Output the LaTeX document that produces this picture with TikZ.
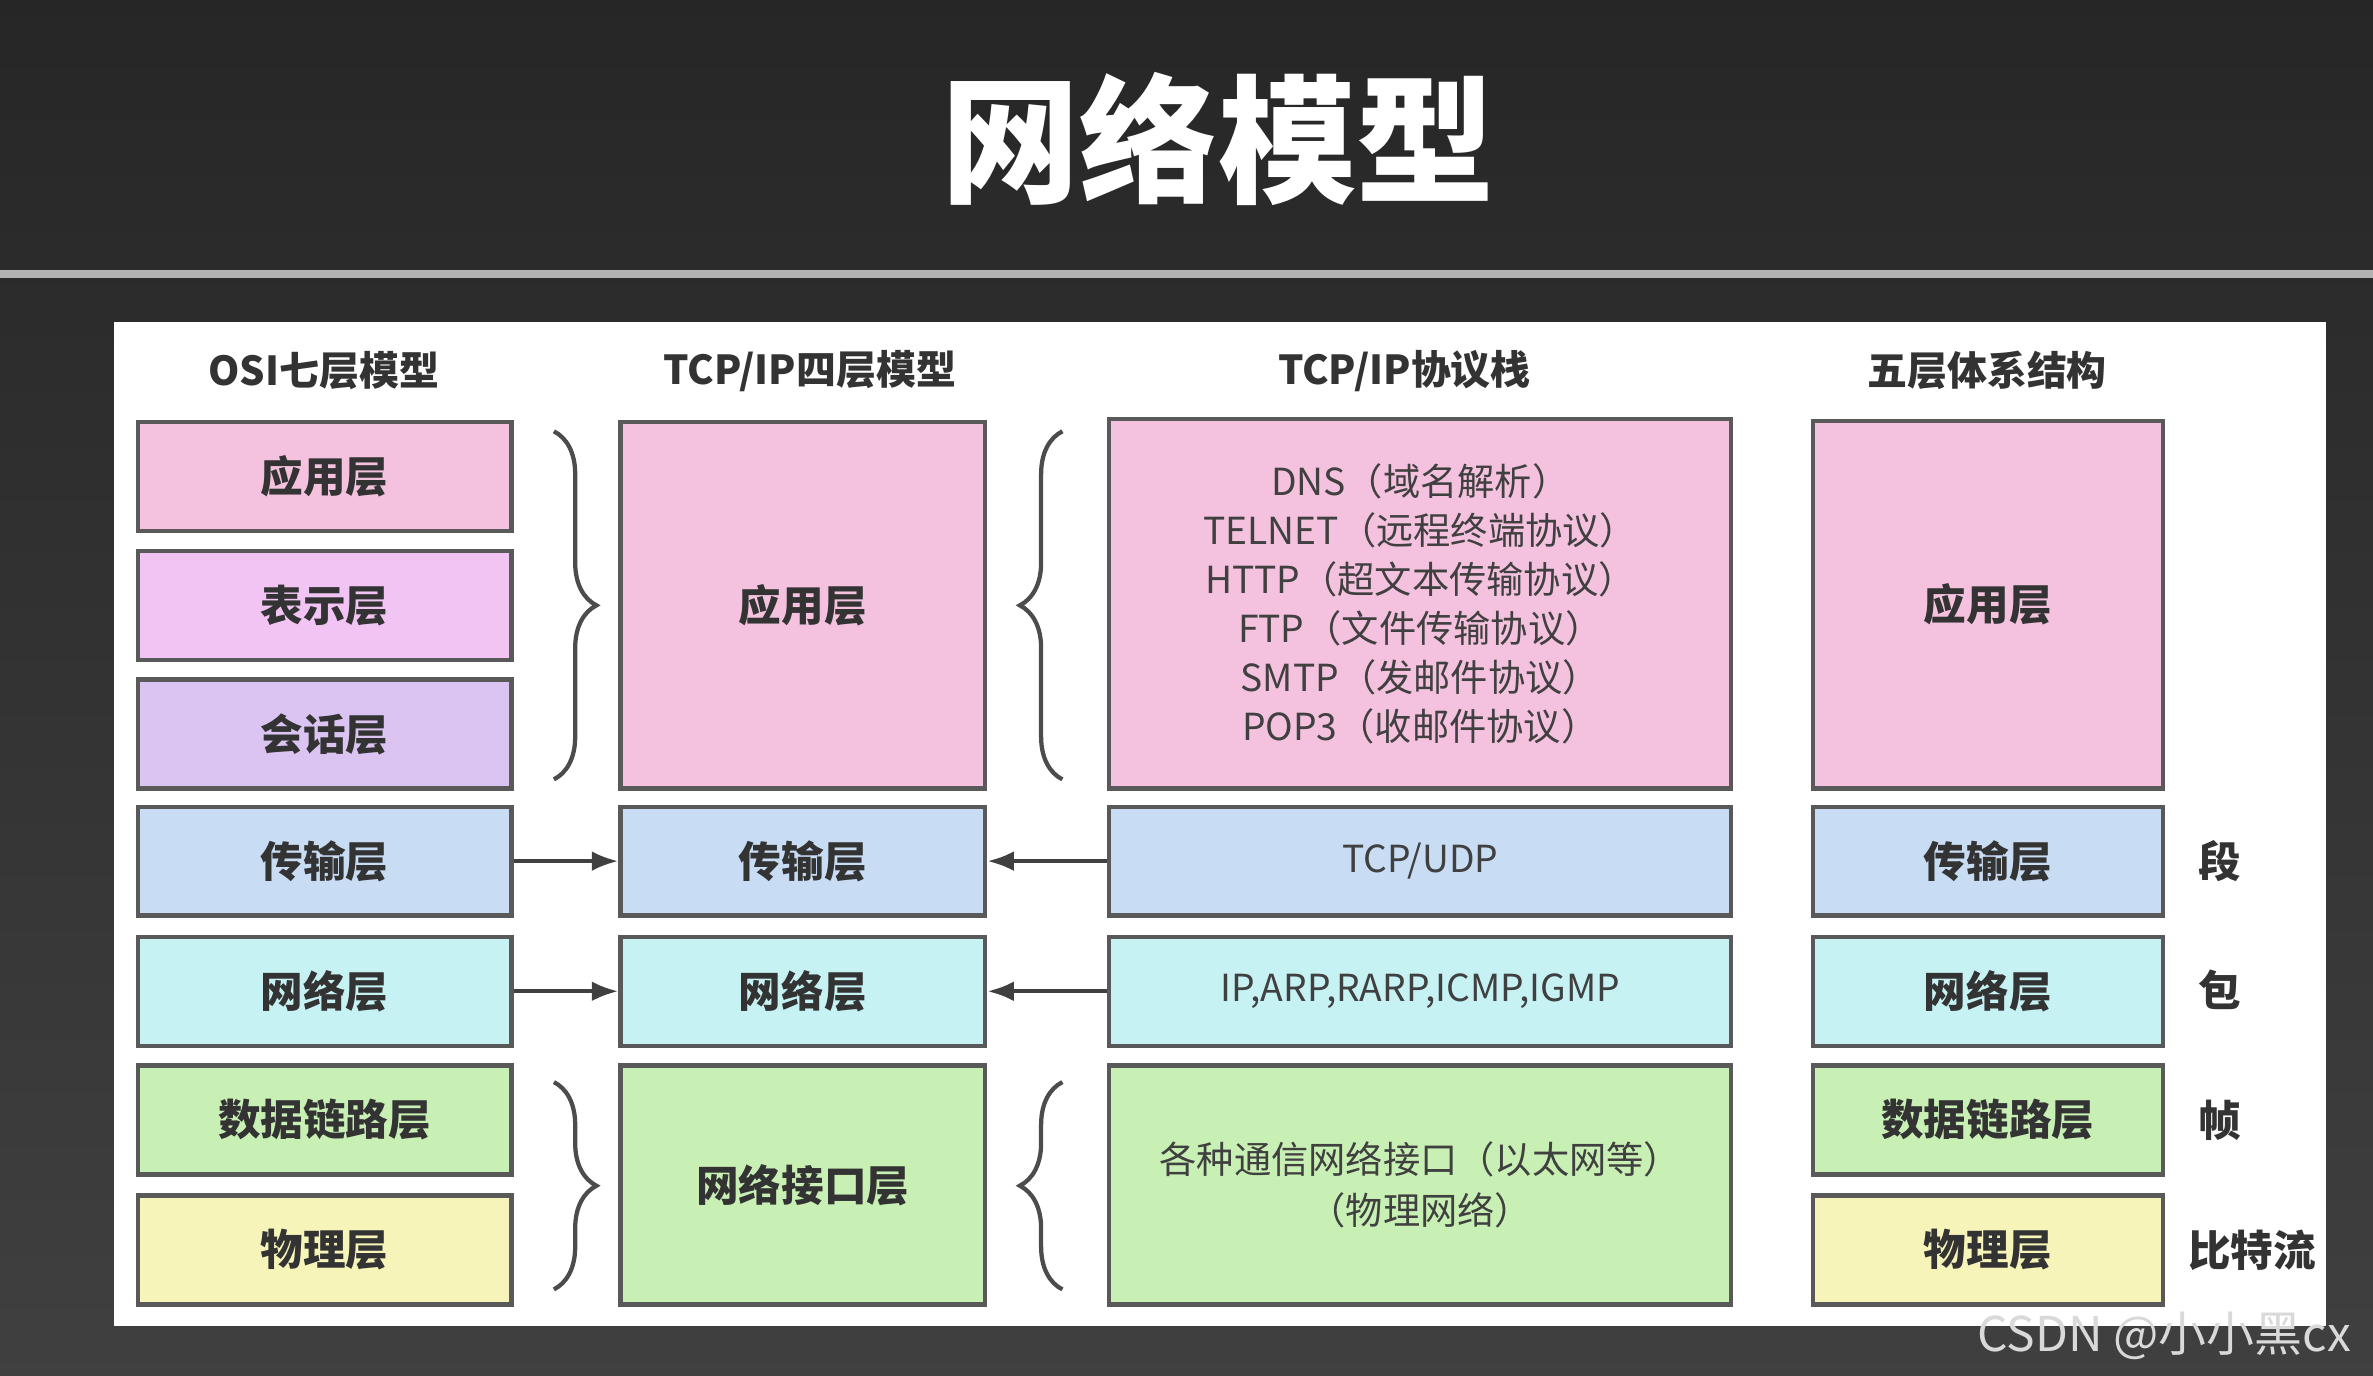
\documentclass[tikz,border=0pt]{standalone}
\usepackage{fontspec}
\setmainfont{Noto Sans CJK SC}
\usetikzlibrary{decorations.pathreplacing,arrows.meta}
\definecolor{cApp}{HTML}{F4C2DE}
\definecolor{cPre}{HTML}{F2C4F4}
\definecolor{cSes}{HTML}{DCC4F2}
\definecolor{cTra}{HTML}{C8DCF4}
\definecolor{cNet}{HTML}{C6F2F4}
\definecolor{cLnk}{HTML}{C8F0B4}
\definecolor{cPhy}{HTML}{F6F4B8}
\begin{document}
\begin{tikzpicture}[x=0.01cm,y=-0.01cm,
  lay/.style={draw=black!65,line width=0.8pt,font=\fontsize{8}{9}\selectfont\bfseries,text=black!80,inner sep=0pt,align=center},
  prot/.style={font=\fontsize{7}{9.6}\selectfont,text=black!75,align=center},
  hdr/.style={font=\fontsize{7.5}{9}\selectfont\bfseries,text=black!80},
  br/.style={decorate,decoration={brace,amplitude=8pt},draw=black!70,line width=0.8pt},
  arr/.style={-{Latex[length=5pt]},draw=black!75,line width=0.8pt}]
\useasboundingbox (0,0) rectangle (1568,909);
\fill[top color=black!85,bottom color=black!75] (0,0) rectangle (1568,909);
\draw[black!30,line width=1.5pt] (0,181) -- (1568,181);
\node[text=white,font=\fontsize{26}{28}\selectfont\bfseries] (title) at (805,92) {网络模型};
\fill[white] (75,213) rectangle (1537,876);
% headers
\node[hdr] (h1) at (214,245) {OSI七层模型};
\node[hdr] (h2) at (535,245) {TCP/IP四层模型};
\node[hdr] (h3) at (928,245) {TCP/IP协议栈};
\node[hdr] (h4) at (1313,245) {五层体系结构};
\newcommand\lbox[8][]{\node[lay,fill=#7,minimum width={(#5-#3)*0.01cm},minimum height={(#6-#4)*0.01cm},#1] (#2) at ({(#3+#5)/2},{(#4+#6)/2}) {#8};}
% col1
\lbox{a1}{91}{279}{338}{351}{cApp}{应用层}
\lbox{a2}{91}{364}{338}{436}{cPre}{表示层}
\lbox{a3}{91}{449}{338}{521}{cSes}{会话层}
\lbox{a4}{91}{533}{338}{605}{cTra}{传输层}
\lbox{a5}{91}{619}{338}{691}{cNet}{网络层}
\lbox{a6}{91}{704}{338}{776}{cLnk}{数据链路层}
\lbox{a7}{91}{790}{338}{862}{cPhy}{物理层}
% col2
\lbox{b1}{410}{279}{651}{521}{cApp}{应用层}
\lbox{b2}{410}{533}{651}{605}{cTra}{传输层}
\lbox{b3}{410}{619}{651}{691}{cNet}{网络层}
\lbox{b4}{410}{704}{651}{862}{cLnk}{网络接口层}
% col3
\lbox[prot,font=\fontsize{7}{9.2}\selectfont]{c1}{733}{277}{1144}{521}{cApp}{DNS（域名解析）\\TELNET（远程终端协议）\\HTTP（超文本传输协议）\\FTP（文件传输协议）\\SMTP（发邮件协议）\\POP3（收邮件协议）}
\lbox[prot]{c2}{733}{533}{1144}{605}{cTra}{TCP/UDP}
\lbox[prot]{c3}{733}{619}{1144}{691}{cNet}{IP,ARP,RARP,ICMP,IGMP}
\lbox[prot]{c4}{733}{704}{1144}{862}{cLnk}{各种通信网络接口（以太网等）\\（物理网络）}
% col4
\lbox{d1}{1198}{278}{1429}{521}{cApp}{应用层}
\lbox{d2}{1198}{533}{1429}{605}{cTra}{传输层}
\lbox{d3}{1198}{619}{1429}{691}{cNet}{网络层}
\lbox{d4}{1198}{704}{1429}{776}{cLnk}{数据链路层}
\lbox{d5}{1198}{790}{1429}{862}{cPhy}{物理层}
% units
\node[hdr,font=\fontsize{8}{9}\selectfont\bfseries] (u1) at (1467,569) {段};
\node[hdr,font=\fontsize{8}{9}\selectfont\bfseries] (u2) at (1467,654) {包};
\node[hdr,font=\fontsize{8}{9}\selectfont\bfseries] (u3) at (1467,740) {帧};
\node[hdr,font=\fontsize{8}{9}\selectfont\bfseries] (u4) at (1488,826) {比特流};
% braces
\draw[br] (366,285) -- (366,515);
\draw[br] (366,715) -- (366,852);
\draw[br] (702,515) -- (702,285);
\draw[br] (702,852) -- (702,715);
% arrows
\draw[arr] (a4.east) -- (b2.west);
\draw[arr] (a5.east) -- (b3.west);
\draw[arr] (c2.west) -- (b2.east);
\draw[arr] (c3.west) -- (b3.east);
\node[text=white!85!black,font=\fontsize{9}{10}\selectfont,anchor=east] (wm) at (1566,883) {CSDN @小小黑cx};
\end{tikzpicture}
\end{document}
